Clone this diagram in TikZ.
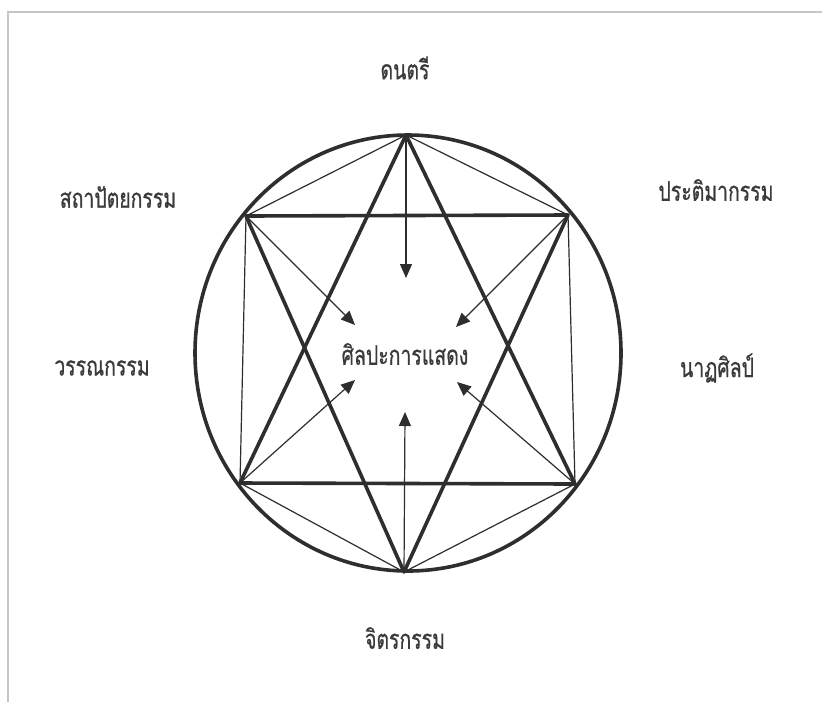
\documentclass[tikz,border=0pt]{standalone}
\usepackage{fontspec}
\newfontfamily\thaifont[Script=Thai, FakeStretch=0.72, FakeBold=0.6]{Loma}
\usepackage{tikz}
\usetikzlibrary{arrows.meta}

\definecolor{ink}{HTML}{2E2E2E}
\definecolor{txt}{HTML}{3A3A3A}

\begin{document}
\begin{tikzpicture}[x=0.5pt, y=-0.5pt,
        heavy/.style={line width=1.8pt, ink, line join=round},
        light/.style={line width=0.6pt, ink},
        pointer/.style={line width=0.6pt, ink, -{Triangle[length=7pt, width=6pt]}},
        lbl/.style={font=\thaifont\fontsize{13.5}{16}\selectfont, text=txt, inner sep=0pt}]
        \useasboundingbox (0,0) rectangle (822,702);
        % we draw the page edge
        \fill[white] (0,0) rectangle (822,702);
        \draw[gray!45, line width=1.2pt] (8,702) -- (8,12) -- (822,12);

        % we place the six points on the circle
        \coordinate (top) at (406,135);
        \coordinate (ul) at (246,216);
        \coordinate (ur) at (568,215);
        \coordinate (ll) at (240,483);
        \coordinate (lr) at (575,484);
        \coordinate (bot) at (404,572);

        % we draw the circle
        \draw[heavy] (408,353) ellipse [x radius=106.5pt, y radius=109pt];

        % we draw the thin hexagon
        \draw[light] (top) -- (ur) -- (lr) -- (bot) -- (ll) -- (ul) -- cycle;

        % we draw the two thick triangles
        \draw[heavy] (top) -- (lr) -- (ll) -- cycle;
        \draw[heavy] (bot) -- (ul) -- (ur) -- cycle;

        % we mark the arrow tips around the centre
        \coordinate (tt) at (406,278);
        \coordinate (tul) at (355,325);
        \coordinate (tur) at (456,327);
        \coordinate (tll) at (355,380);
        \coordinate (tlr) at (457,382);
        \coordinate (tb) at (405,412);

        % we draw the arrows to the centre
        \draw[pointer] (top) -- (tt);
        \draw[pointer] (ul) -- (tul);
        \draw[pointer] (ur) -- (tur);
        \draw[pointer] (ll) -- (tll);
        \draw[pointer] (lr) -- (tlr);
        \draw[pointer] (bot) -- (tb);

        % we add the labels
        \node[lbl] (centre) at (405,354) {ศิลปะการแสดง};
        \node[lbl] (music) at (405,68) {ดนตรี};
        \node[lbl] (archi) at (118,197) {สถาปัตยกรรม};
        \node[lbl] (sculpt) at (716,190) {ประติมากรรม};
        \node[lbl] (liter) at (102,368) {วรรณกรรม};
        \node[lbl] (dance) at (717,368) {นาฏศิลป์};
        \node[lbl] (paint) at (405,638) {จิตรกรรม};
    \end{tikzpicture}
\end{document}
